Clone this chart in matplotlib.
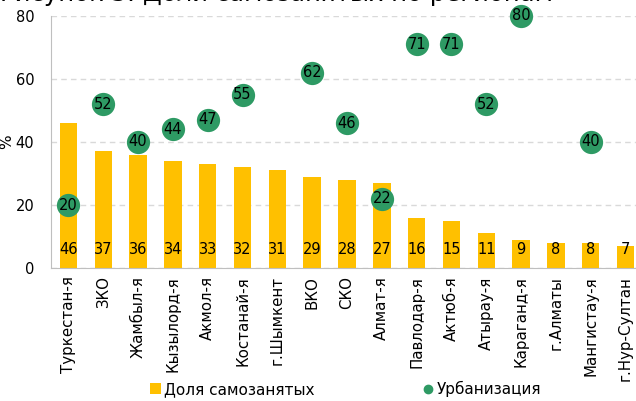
import matplotlib
matplotlib.use("Agg")
import matplotlib.pyplot as plt
import numpy as np
from matplotlib.lines import Line2D
from matplotlib.patches import Patch

plt.rcParams['font.family'] = ['DejaVu Sans']

regions = ["Туркестан-я", "ЗКО", "Жамбыл-я", "Кызылорд-я", "Акмол-я", "Костанай-я",
           "г.Шымкент", "ВКО", "СКО", "Алмат-я", "Павлодар-я", "Актюб-я", "Атырау-я",
           "Караганд-я", "г.Алматы", "Мангистау-я", "г.Нур-Султан"]
self_employed = [46, 37, 36, 34, 33, 32, 31, 29, 28, 27, 16, 15, 11, 9, 8, 8, 7]
urbanization = [20, 52, 40, 44, 47, 55, None, 62, 46, 22, 71, 71, 52, 80, None, 40, None]
yticks = [0, 20, 40, 60, 80]

bar_color = "#FFC000"
dot_color = "#2E9A64"

fig = plt.figure(figsize=(6.36, 4.01), dpi=100)
W, H = 636, 401
ax = fig.add_axes([51 / W, 1 - 268 / H, 592 / W, (268 - 16) / H])

x = np.arange(len(regions))
ax.bar(x, self_employed, width=0.5, color=bar_color, zorder=2)
for xi, v in zip(x, self_employed):
    ax.text(xi, 6, str(v), ha="center", va="center", fontsize=10.5, zorder=5)

ux = [xi for xi, u in zip(x, urbanization) if u is not None]
uy = [u for u in urbanization if u is not None]
ax.scatter(ux, uy, s=280, color=dot_color, zorder=3, clip_on=False, linewidths=0)
for xi, u in zip(ux, uy):
    ax.text(xi, u, str(u), ha="center", va="center", fontsize=10.5, zorder=6, clip_on=False)

ax.set_xlim(-0.5, len(regions) - 0.5)
ax.set_ylim(0, 80)
ax.set_yticks(yticks)
ax.set_yticklabels([str(t) for t in yticks], fontsize=10.5)
ax.set_xticks(x)
ax.set_xticklabels(regions, rotation=90, fontsize=10.8)
ax.tick_params(axis="both", length=0, pad=6)
ax.tick_params(axis="y", pad=12)
ax.yaxis.grid(True, linestyle=(0, (4, 3)), color="#D9D9D9", linewidth=1, zorder=0)
ax.set_axisbelow(True)
for s in ["top", "right"]:
    ax.spines[s].set_visible(False)
ax.spines["left"].set_color("#BFBFBF")
ax.spines["bottom"].set_color("#BFBFBF")
ax.set_ylabel("%", fontsize=11)
ax.yaxis.set_label_coords(-0.062, 0.5)

fig.text(0.0, 1 - 1.5 / H, "Рисунок 3: Доли самозанятых по регионам", fontsize=17.5,
         ha="left", va="baseline")

h1 = Patch(facecolor=bar_color, edgecolor="none")
h2 = Line2D([], [], marker="o", color=dot_color, linestyle="none", markersize=6)
fig.legend([h1, h2], ["Доля самозанятых", "Урбанизация"], loc="center left",
           bbox_to_anchor=(150 / W, 1 - 389 / H), ncol=2, frameon=False, fontsize=11,
           columnspacing=7.1, handlelength=0.7, handletextpad=0.2, borderpad=0,
           borderaxespad=0)

fig.savefig("out.png", dpi=100)
